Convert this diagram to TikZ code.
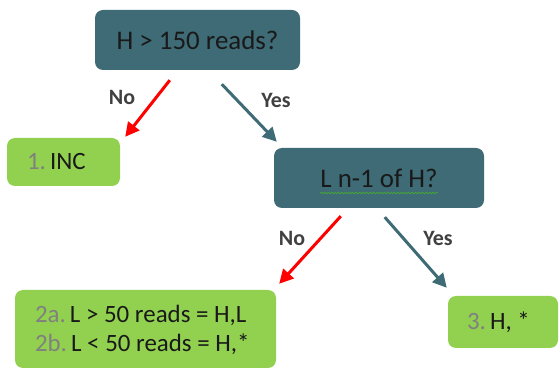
\documentclass[tikz,border=0pt]{standalone}
\usepackage{fontspec}
\setmainfont{Carlito}
\usepackage{xcolor}
\usepackage{tikz}
\usetikzlibrary{arrows.meta,positioning,decorations.pathmorphing}

\definecolor{qteal}{RGB}{62,107,117}
\definecolor{qgreen}{RGB}{146,208,80}
\definecolor{qred}{RGB}{255,0,0}
\definecolor{qgrey}{RGB}{128,128,128}
\definecolor{qlabel}{RGB}{64,64,64}
\definecolor{qspell}{RGB}{70,160,60}

\begin{document}
\begin{tikzpicture}[>={Triangle[length=14bp,width=14bp]},line join=bevel,
  question/.style={fill=qteal,rounded corners=8bp,minimum height=60bp,
    font=\fontsize{27}{30}\selectfont,text=black!90},
  answer/.style={fill=qgreen,rounded corners=8bp,inner sep=0bp},
  answertext/.style={anchor=west,align=left,inner sep=0bp,
    font=\fontsize{25}{30}\selectfont,text=black!90},
  noedge/.style={->,qred,line width=3bp},
  yesedge/.style={->,qteal,line width=3bp},
  choice/.style={font=\fontsize{22}{24}\selectfont\bfseries,text=qlabel},
]
  \useasboundingbox (0bp,0bp) rectangle (559bp,371bp);
%%
  % Node: top
  \node[question, minimum width=205bp] (top) at (197.5bp,331bp) {H > 150 reads?};
  % Node: inc
  \node[answer, minimum width=113bp, minimum height=48bp] (inc) at (63.5bp,209bp) {};
  \node[answertext] (inctext) at ([xshift=20bp]inc.west) {\textcolor{qgrey}{1.}\,INC};
  % Node: mid
  \node[question, minimum width=210bp] (mid) at (379bp,193bp) {L n-1 of H?};
  \draw[qspell, line width=0.8bp, decorate, decoration={snake,amplitude=0.9bp,segment length=3.5bp}]
    ([xshift=-59bp,yshift=-15bp]mid.center) -- ([xshift=59bp,yshift=-15bp]mid.center);
  % Node: both
  \node[answer, minimum width=261bp, minimum height=78bp] (both) at (145.5bp,42bp) {};
  \node[answertext] (bothtext) at ([xshift=20bp,yshift=-1bp]both.west)
    {\textcolor{qgrey}{2a.}\,L > 50 reads = H,L\\\textcolor{qgrey}{2b.}\,L < 50 reads = H,*};
  % Node: hstar
  \node[answer, minimum width=110bp, minimum height=52bp] (hstar) at (503bp,49bp) {};
  \node[answertext] (hstartext) at ([xshift=19bp]hstar.west) {\textcolor{qgrey}{3.}\,H, *};
  % Edge: top -> inc
  \draw[noedge] ([xshift=75bp,yshift=-10bp]top.south west) -- ([xshift=5bp,yshift=1bp]inc.north east);
  \node[choice] (no1) at (122bp,274bp) {No};
  % Edge: top -> mid
  \draw[yesedge] ([xshift=127bp,yshift=-14bp]top.south west) -- ([xshift=3bp,yshift=6bp]mid.north west);
  \node[choice] (yes1) at (276bp,271bp) {Yes};
  % Edge: mid -> both
  \draw[noedge] ([xshift=67bp,yshift=-8bp]mid.south west) -- ([xshift=3bp,yshift=6bp]both.north east);
  \node[choice] (no2) at (292bp,133bp) {No};
  % Edge: mid -> hstar
  \draw[yesedge] ([xshift=111bp,yshift=-9bp]mid.south west) -- ([xshift=-1bp,yshift=8bp]hstar.north west);
  \node[choice] (yes2) at (438bp,133bp) {Yes};
%
\end{tikzpicture}
\end{document}
